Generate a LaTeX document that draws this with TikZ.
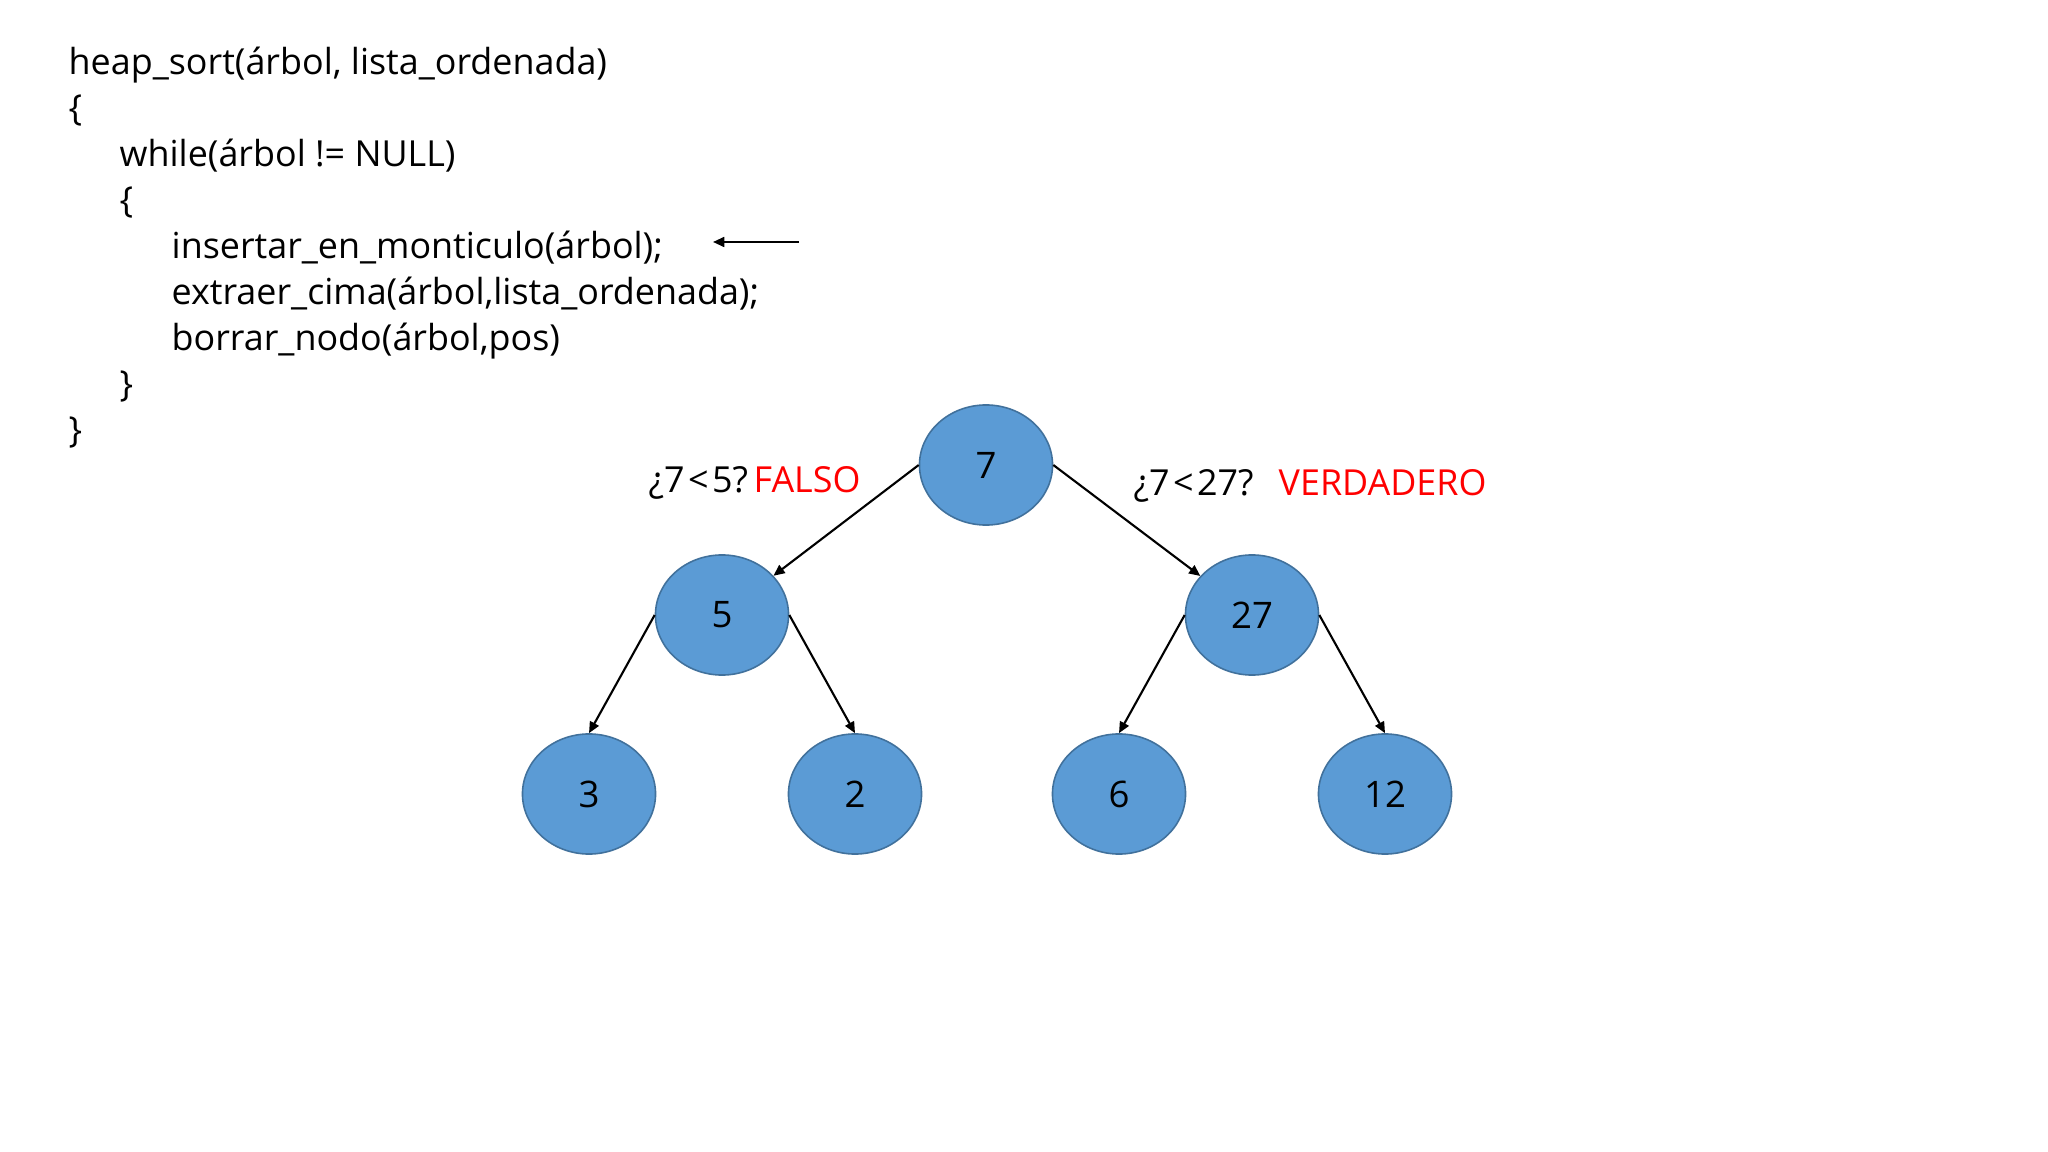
\documentclass[tikz,border=0pt]{standalone}
\usepackage{fontspec}
\setmainfont{Open Sans}
\usetikzlibrary{arrows.meta, positioning, shapes.geometric}
\definecolor{NodeBlue}{RGB}{91, 155, 213}
\definecolor{NodeEdge}{RGB}{65, 113, 156}
\definecolor{AnswerRed}{RGB}{255, 0, 0}
\begin{document}
\begin{tikzpicture}[
        x=0.01cm, y=-0.01cm,
        % Styles
        code/.style={anchor=base west, inner sep=0pt, font=\fontsize{10.2}{12}\selectfont},
        heap/.style={ellipse, draw=NodeEdge, line width=0.45pt, fill=NodeBlue, minimum width=1.33cm, minimum height=1.2cm, inner sep=0pt, font=\fontsize{10.4}{12}\selectfont},
        answer/.style={code, text=AnswerRed},
        line/.style={draw, line width=0.6pt, -{Triangle[length=3.2pt, width=2.8pt]}}
    ]
        \useasboundingbox (0,0) rectangle (2048,1152);

        % Code
        \node [code] (l1) at (68,75) {heap\_sort(árbol, lista\_ordenada)};
        \node [code] (l2) at (68,121) {\{};
        \node [code] (l3) at (119,167) {while(árbol != NULL)};
        \node [code] (l4) at (119,213) {\{};
        \node [code] (l5) at (171,259) {insertar\_en\_monticulo(árbol);};
        \node [code] (l6) at (171,305) {extraer\_cima(árbol,lista\_ordenada);};
        \node [code] (l7) at (171,351) {borrar\_nodo(árbol,pos)};
        \node [code] (l8) at (119,397) {\}};
        \node [code] (l9) at (68,443) {\}};

        \coordinate (ptrtail) at (799,242);
        \coordinate (ptrtip) at (713,242);
        \path [line] (ptrtail) -- (ptrtip);

        % Heap
        \node [heap] (n7) at (986,465) {7};
        \node [heap] (n5) at (722,615) {5};
        \node [heap] (n27) at (1252,615) {27};
        \node [heap] (n3) at (589,794) {3};
        \node [heap] (n2) at (855,794) {2};
        \node [heap] (n6) at (1119,794) {6};
        \node [heap] (n12) at (1385,794) {12};

        % Comparisons
        \node [code] (cmpleft) at (648,492) {¿7\kern1pt<\kern1pt5?};
        \node [answer] (falso) at (753,492) {FALSO};
        \node [code] (cmpright) at (1133,495) {¿7\kern1pt<\kern1pt27?};
        \node [answer] (verdad) at (1278,495) {VERDADERO};

        % Paths
        \path [line] (n7.west) -- (n5);
        \path [line] (n7.east) -- (n27);
        \path [line] (n5.west) -- (n3.north);
        \path [line] (n5.east) -- (n2.north);
        \path [line] (n27.west) -- (n6.north);
        \path [line] (n27.east) -- (n12.north);
    \end{tikzpicture}
\end{document}
